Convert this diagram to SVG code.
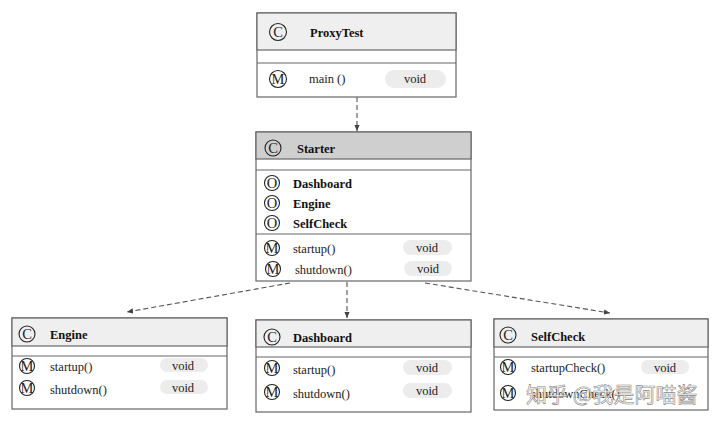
<svg xmlns="http://www.w3.org/2000/svg" width="720" height="423" viewBox="0 0 720 423">
<defs>
<style>
.box{fill:#fff;stroke:#666;stroke-width:1.2}
.hd{fill:#efefef;stroke:#666;stroke-width:1.2}
.hd2{fill:#cfcfcf;stroke:#666;stroke-width:1.2}
.sep{stroke:#666;stroke-width:1.2}
.ic{fill:none;stroke:#222;stroke-width:1.1}
.il{font-family:"Liberation Serif",serif;font-size:14.5px;fill:#222;text-anchor:middle}
.cn{font-family:"Liberation Serif",serif;font-size:12.5px;font-weight:bold;fill:#111}
.tx{font-family:"Liberation Serif",serif;font-size:12.5px;fill:#222}
.pill{fill:#ececec}
.vt{font-family:"Liberation Serif",serif;font-size:12.5px;fill:#222;text-anchor:middle}
.con{fill:none;stroke:#555;stroke-width:1.1;stroke-dasharray:5,3}
.wm{font-family:"Noto Sans CJK SC","Liberation Sans",sans-serif;font-size:21px;fill:#fff;fill-opacity:0.85;stroke:#888;stroke-width:0.6}
</style>
<marker id="ah" viewBox="0 0 8 8" refX="7" refY="4" markerWidth="7" markerHeight="7" orient="auto" markerUnits="userSpaceOnUse">
<path d="M0,1 L7,4 L0,7 Z" fill="#444"/>
</marker>
</defs>
<rect width="720" height="423" fill="#fff"/>

<g id="connectors">
<line class="con" x1="357" y1="97" x2="357" y2="131" marker-end="url(#ah)"/>
<line class="con" x1="290" y1="283" x2="127" y2="312" marker-end="url(#ah)"/>
<line class="con" x1="347" y1="282" x2="347" y2="318" marker-end="url(#ah)"/>
<line class="con" x1="425" y1="283" x2="610" y2="313" marker-end="url(#ah)"/>
</g>

<g id="ProxyTest">
<rect class="box" x="257" y="13" width="199" height="84"/>
<rect class="hd" x="257" y="13" width="199" height="37"/>
<line class="sep" x1="257" y1="63" x2="456" y2="63"/>
<circle class="ic" cx="278" cy="32" r="8.5"/><text class="il" x="278" y="37">C</text>
<text class="cn" x="310" y="36.5">ProxyTest</text>
<circle class="ic" cx="278" cy="79" r="8.5"/><text class="il" x="278" y="84">M</text>
<text class="tx" x="309" y="83">main ()</text>
<rect class="pill" x="385" y="70" width="61" height="18" rx="9"/>
<text class="vt" x="415" y="83">void</text>
</g>

<g id="Starter">
<rect class="box" x="256" y="132" width="215" height="149"/>
<rect class="hd2" x="256" y="132" width="215" height="27"/>
<line class="sep" x1="256" y1="170" x2="471" y2="170"/>
<line class="sep" x1="256" y1="234" x2="471" y2="234"/>
<circle class="ic" cx="273" cy="148" r="8"/><text class="il" x="273" y="153">C</text>
<text class="cn" x="297" y="153">Starter</text>
<circle class="ic" cx="272" cy="183" r="7.5"/><text class="il" x="272" y="188">O</text>
<text class="cn" x="293" y="188">Dashboard</text>
<circle class="ic" cx="272" cy="203" r="7.5"/><text class="il" x="272" y="208">O</text>
<text class="cn" x="293" y="208">Engine</text>
<circle class="ic" cx="272" cy="223" r="7.5"/><text class="il" x="272" y="228">O</text>
<text class="cn" x="293" y="228">SelfCheck</text>
<circle class="ic" cx="272" cy="248" r="7.5"/><text class="il" x="272" y="253">M</text>
<text class="tx" x="293" y="252.5">startup()</text>
<rect class="pill" x="403" y="240" width="49" height="15" rx="7.5"/>
<text class="vt" x="427" y="251.5">void</text>
<circle class="ic" cx="273" cy="269" r="7.5"/><text class="il" x="273" y="274">M</text>
<text class="tx" x="295" y="273.5">shutdown()</text>
<rect class="pill" x="404" y="261" width="48" height="15" rx="7.5"/>
<text class="vt" x="428" y="272.5">void</text>
</g>

<g id="Engine">
<rect class="box" x="12" y="318" width="215" height="91"/>
<rect class="hd" x="12" y="318" width="215" height="28"/>
<line class="sep" x1="12" y1="356" x2="227" y2="356"/>
<circle class="ic" cx="27" cy="334" r="8"/><text class="il" x="27" y="339">C</text>
<text class="cn" x="50" y="339">Engine</text>
<circle class="ic" cx="27" cy="366" r="7.5"/><text class="il" x="27" y="371">M</text>
<text class="tx" x="50" y="370.5">startup()</text>
<rect class="pill" x="160" y="358" width="48" height="14" rx="7"/>
<text class="vt" x="183" y="369.5">void</text>
<circle class="ic" cx="27" cy="388" r="7.5"/><text class="il" x="27" y="393">M</text>
<text class="tx" x="50" y="393.5">shutdown()</text>
<rect class="pill" x="160" y="380" width="48" height="14" rx="7"/>
<text class="vt" x="183" y="391.5">void</text>
</g>

<g id="Dashboard">
<rect class="box" x="256" y="320" width="215" height="92"/>
<rect class="hd" x="256" y="320" width="215" height="27"/>
<line class="sep" x1="256" y1="357" x2="471" y2="357"/>
<circle class="ic" cx="272" cy="337" r="8"/><text class="il" x="272" y="342">C</text>
<text class="cn" x="293" y="342">Dashboard</text>
<circle class="ic" cx="272" cy="368" r="7.5"/><text class="il" x="272" y="373">M</text>
<text class="tx" x="293" y="373.5">startup()</text>
<rect class="pill" x="403" y="360" width="49" height="15" rx="7.5"/>
<text class="vt" x="427" y="371.5">void</text>
<circle class="ic" cx="272" cy="392" r="7.5"/><text class="il" x="272" y="397">M</text>
<text class="tx" x="293" y="397.5">shutdown()</text>
<rect class="pill" x="403" y="383" width="49" height="15" rx="7.5"/>
<text class="vt" x="427" y="394.5">void</text>
</g>

<g id="SelfCheck">
<rect class="box" x="494" y="319" width="214" height="91"/>
<rect class="hd" x="494" y="319" width="214" height="28"/>
<line class="sep" x1="494" y1="357" x2="708" y2="357"/>
<circle class="ic" cx="508" cy="335" r="8"/><text class="il" x="508" y="340">C</text>
<text class="cn" x="531" y="341">SelfCheck</text>
<circle class="ic" cx="508" cy="367" r="7.5"/><text class="il" x="508" y="372">M</text>
<text class="tx" x="531" y="372">startupCheck()</text>
<rect class="pill" x="641" y="360" width="48" height="14" rx="7"/>
<text class="vt" x="665" y="371.5">void</text>
<circle class="ic" cx="508" cy="393" r="7.5"/><text class="il" x="508" y="398">M</text>
<text class="tx" x="531" y="398">shutdownCheck()</text>
</g>

<text class="wm" x="526" y="402">知乎 @我是阿喵酱</text>
</svg>
